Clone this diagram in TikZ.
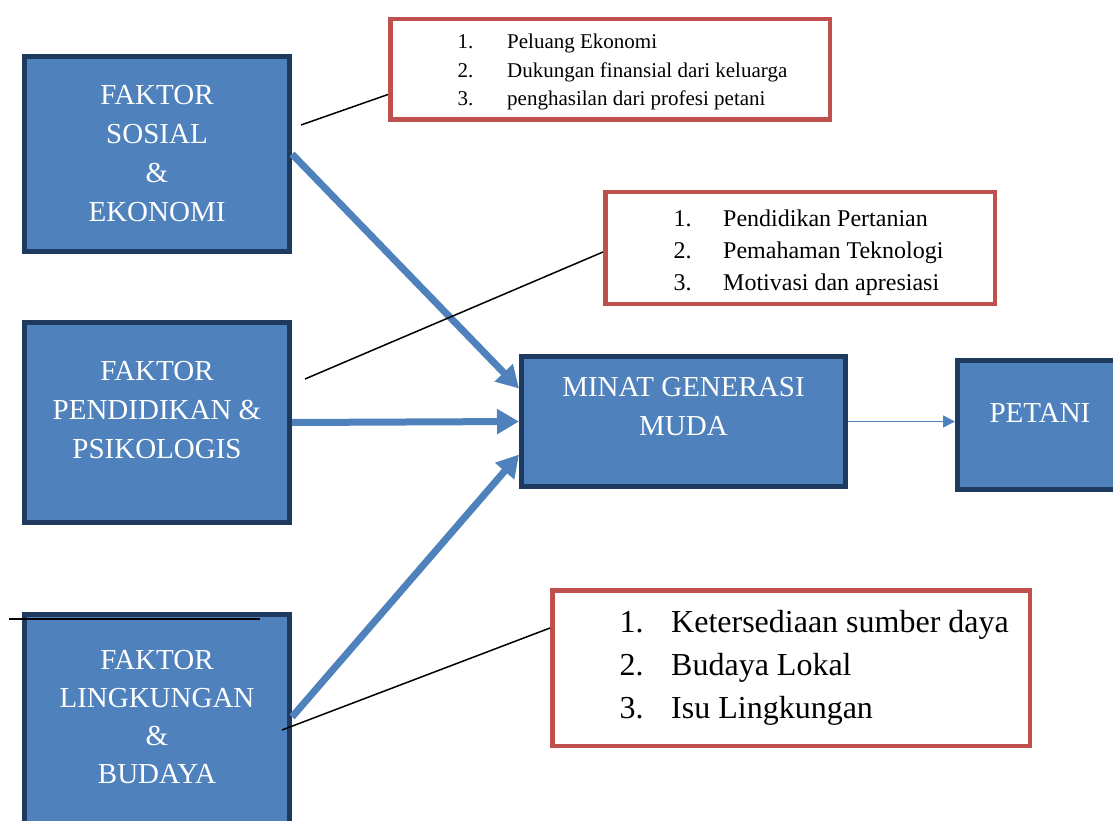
\documentclass[tikz,border=0pt]{standalone}
\usepackage{fontspec}
\setmainfont{Liberation Serif}
\usetikzlibrary{arrows.meta}
\definecolor{boxblue}{HTML}{4F81BD}
\definecolor{boxedge}{HTML}{1F3A5F}
\definecolor{listred}{HTML}{C0504D}
\tikzset{
  factor/.style={draw=boxedge, fill=boxblue, line width=5pt, inner sep=0pt, anchor=north west},
  factortext/.style={text=white, align=center, inner sep=0pt, font=\fontsize{29}{39}\selectfont},
  listbox/.style={draw=listred, line width=4.5pt, inner sep=0pt, anchor=north west},
  listitem/.style={anchor=base west, inner sep=0pt},
  bigarrow/.style={boxblue, line width=7pt, -{Triangle[length=22pt,width=24pt]}},
  thinarrow/.style={boxblue, line width=1.5pt, -{Triangle[length=12pt,width=12pt]}},
  note/.style={black, line width=1.5pt},
}
\begin{document}
\begin{tikzpicture}[x=1pt, y=-1pt]
  \useasboundingbox (0,0) rectangle (1113,821);

  % factor boxes
  \node[factor, minimum width=265, minimum height=195] (sosial) at (22,54) {};
  \node[factor, minimum width=265, minimum height=200] (pendidikan) at (22,320) {};
  \node[factor, minimum width=265, minimum height=213] (lingkungan) at (22,612) {};
  \node[factor, minimum width=324, minimum height=130] (minat) at (519,354) {};
  \node[factor, minimum width=165, minimum height=129] (petani) at (955,358) {};

  \node[factortext] (sosialtxt) at (sosial.center) {FAKTOR\\SOSIAL\\\&\\EKONOMI};
  \node[factortext] (pendidikantxt) at ([yshift=12pt]pendidikan.center) {FAKTOR\\PENDIDIKAN \&\\PSIKOLOGIS};
  \node[factortext, font=\fontsize{29}{38}\selectfont] (lingkungantxt) at ([yshift=3.5pt]lingkungan.center) {FAKTOR\\LINGKUNGAN\\\&\\BUDAYA};
  \node[factortext] (minattxt) at ([yshift=14.5pt]minat.center) {MINAT GENERASI\\MUDA};
  \node[factortext] (petanitxt) at ([yshift=12.5pt]petani.center) {PETANI};

  % arrows into the middle box
  \draw[bigarrow] (sosial.east) -- ([yshift=33pt]minat.west);
  \draw[bigarrow] (pendidikan.east) -- (minat.west);
  \draw[bigarrow] ([yshift=4pt]lingkungan.east) -- ([yshift=-33pt]minat.west);
  \draw[thinarrow] (minat.east) -- (minat.east -| petani.west);

  % lists in red frames
  \node[listbox, minimum width=439.5, minimum height=100.5] (ekolist) at (388,17) {};
  \foreach \i/\txt/\y in {1/Peluang Ekonomi/49, 2/Dukungan finansial dari keluarga/77.5,
                          3/penghasilan dari profesi petani/106} {
    \node[listitem, font=\fontsize{21}{28}\selectfont] (ekonum\i) at (457.5,\y) {\i.};
    \node[listitem, font=\fontsize{21}{28}\selectfont] (ekoitem\i) at (507,\y) {\txt};
  }
  \node[listbox, minimum width=389.5, minimum height=111.5] (pendlist) at (603,190) {};
  \foreach \i/\txt/\y in {1/Pendidikan Pertanian/226, 2/Pemahaman Teknologi/258,
                          3/Motivasi dan apresiasi/290} {
    \node[listitem, font=\fontsize{24}{32}\selectfont] (pendnum\i) at (673.5,\y) {\i.};
    \node[listitem, font=\fontsize{24}{32}\selectfont] (penditem\i) at (723,\y) {\txt};
  }
  \node[listbox, minimum width=477.5, minimum height=155.5] (lingklist) at (550,588) {};
  \foreach \i/\txt/\y in {1/Ketersediaan sumber daya/632, 2/Budaya Lokal/675,
                          3/Isu Lingkungan/718} {
    \node[listitem, font=\fontsize{32}{43}\selectfont] (lingknum\i) at (619.5,\y) {\i.};
    \node[listitem, font=\fontsize{32}{43}\selectfont] (lingkitem\i) at (671,\y) {\txt};
  }

  % callout lines
  \coordinate (sosialtip) at (301,125);
  \coordinate (pendidikantip) at (305,379);
  \coordinate (lingkungantip) at (282,730);
  \coordinate (ruleleft) at (9,619);
  \coordinate (ruleright) at (260,619);
  \draw[note] (sosialtip) -- ([yshift=-25pt]ekolist.west);
  \draw[note] (pendidikantip) -- ([yshift=-4pt]pendlist.west);
  \draw[note] (lingkungantip) -- ([yshift=40pt]lingklist.west);
  \draw[note] (ruleleft) -- (ruleright);
\end{tikzpicture}
\end{document}
